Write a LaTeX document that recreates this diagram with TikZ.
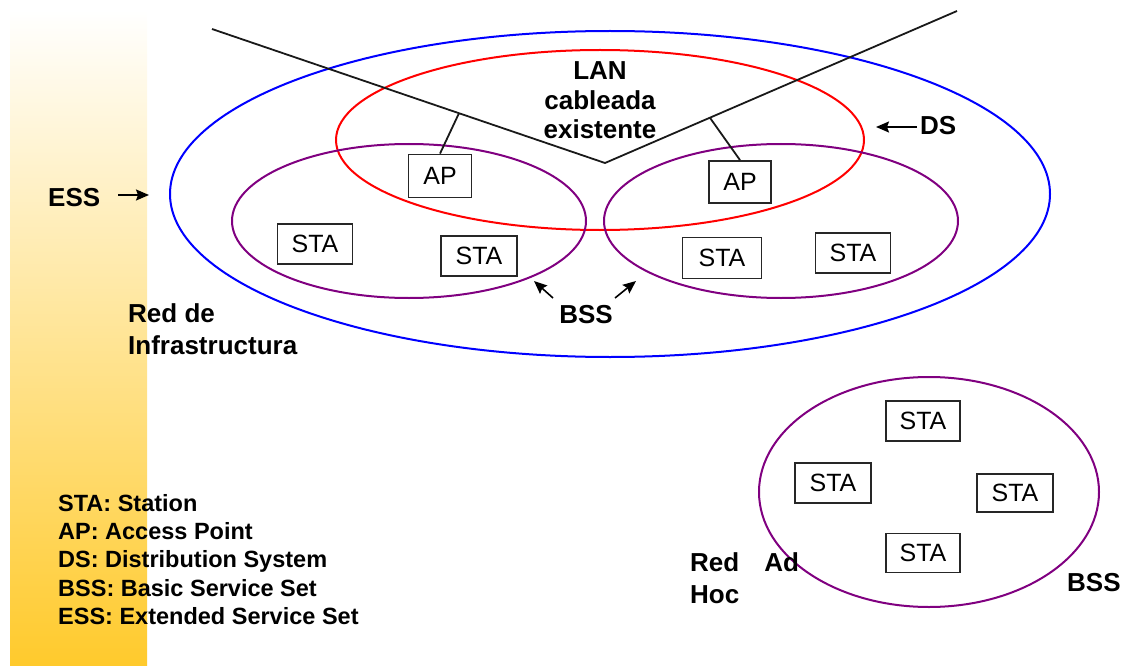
\documentclass[tikz,border=0pt]{standalone}
\usepackage{fontspec}
\setmainfont{Liberation Sans}
\usetikzlibrary{arrows.meta,calc}

\definecolor{essblue}{RGB}{0,0,255}
\definecolor{dsred}{RGB}{255,0,0}
\definecolor{bsspurple}{RGB}{128,0,128}
\definecolor{barmid}{RGB}{253,230,188}
\definecolor{barbot}{RGB}{255,202,44}

\tikzset{
  ring/.style={line width=2pt},
  wire/.style={line width=1.8pt, black!90},
  unit/.style={draw=black!85, line width=1.8pt, minimum width=75pt, minimum height=40pt,
    inner sep=0pt, font=\fontsize{25}{28}\selectfont},
  apbox/.style={unit, minimum width=63pt, minimum height=43pt},
  lbl/.style={font=\bfseries\fontsize{26}{30}\selectfont, inner sep=0pt},
  key/.style={font=\bfseries\fontsize{23.5}{28}\selectfont, inner sep=0pt, anchor=base west},
  pointer/.style={line width=1.6pt, -{Stealth[length=13pt,width=11pt,inset=2pt]}}
}

\begin{document}
\begin{tikzpicture}[x=1pt,y=-1pt]
\useasboundingbox (0,0) rectangle (1127,666);

% shaded side band
\shade[top color=white, middle color=barmid, bottom color=barbot] (10,10) rectangle (147,666);

% service set areas
\draw[ring, essblue] (610,194) ellipse [x radius=440pt, y radius=163pt];
\draw[ring, dsred] (600,140) ellipse [x radius=264pt, y radius=90pt];
\draw[ring, bsspurple] (409,221) ellipse [x radius=177pt, y radius=77pt];
\draw[ring, bsspurple] (781,221) ellipse [x radius=177pt, y radius=77pt];
\draw[ring, bsspurple] (929,492) ellipse [x radius=170pt, y radius=115pt];

% wired backbone
\coordinate (wl) at (212,29);
\coordinate (wv) at (605,163);
\coordinate (wr) at (957,11);
\draw[wire] (wl) -- (wv) -- (wr);
\coordinate (tapL) at ($(wl)!0.6285!(wv)$);
\coordinate (tapR) at ($(wv)!0.298!(wr)$);

% access points
\node[apbox] (apL) at (440,176) {AP};
\node[apbox, minimum width=62pt, minimum height=42pt] (apR) at (740,182) {AP};
\draw[wire] (tapL) -- (apL.north);
\draw[wire] (tapR) -- (apR.north);

% stations of the infrastructure network
\node[unit] (s1) at (315,244) {STA};
\node[unit, minimum width=76pt] (s2) at (479,256) {STA};
\node[unit, minimum width=79pt, minimum height=41pt] (s3) at (722,258) {STA};
\node[unit] (s4) at (853,253) {STA};

% stations of the ad hoc network
\node[unit, minimum width=74pt] (h1) at (923,421) {STA};
\node[unit, minimum width=76pt] (h2) at (833,483) {STA};
\node[unit, minimum width=76pt, minimum height=38pt] (h3) at (1015,493) {STA};
\node[unit, minimum width=74pt, minimum height=39pt] (h4) at (923,553) {STA};

% labels
\node[lbl, anchor=base] (lan1) at (600,80) {LAN};
\node[lbl, anchor=base] (lan2) at (600,110) {cableada};
\node[lbl, anchor=base] (lan3) at (600,139) {existente};

\node[lbl, anchor=base west] (ds) at (920,135) {DS};
\coordinate (dsTail) at (917,127);
\coordinate (dsTip) at (876,127);
\draw[pointer] (dsTail) -- (dsTip);

\node[lbl, anchor=base west] (ess) at (48,206) {ESS};
\coordinate (essTail) at (118,195);
\coordinate (essTip) at (149,195);
\draw[pointer] (essTail) -- (essTip);

\node[lbl, anchor=base west] (infra1) at (128,322) {Red de};
\node[lbl, anchor=base west] (infra2) at (128,354) {Infrastructura};

\node[lbl, anchor=base] (bss) at (586,323) {BSS};
\coordinate (bssTailL) at (553,298);
\coordinate (bssTipL) at (534,281);
\coordinate (bssTailR) at (615,298);
\coordinate (bssTipR) at (636,281);
\draw[pointer] (bssTailL) -- (bssTipL);
\draw[pointer] (bssTailR) -- (bssTipR);

\node[lbl, anchor=base west] (adhoc1) at (690,571) {Red\hspace{25pt}Ad};
\node[lbl, anchor=base west] (adhoc2) at (690,603) {Hoc};
\node[lbl, anchor=base west] (bss2) at (1067,591) {BSS};

% legend
\node[key] (k1) at (58,511) {STA: Station};
\node[key] (k2) at (58,539) {AP: Access Point};
\node[key] (k3) at (58,567) {DS: Distribution System};
\node[key] (k4) at (58,596) {BSS: Basic Service Set};
\node[key] (k5) at (58,624) {ESS: Extended Service Set};
\end{tikzpicture}
\end{document}
